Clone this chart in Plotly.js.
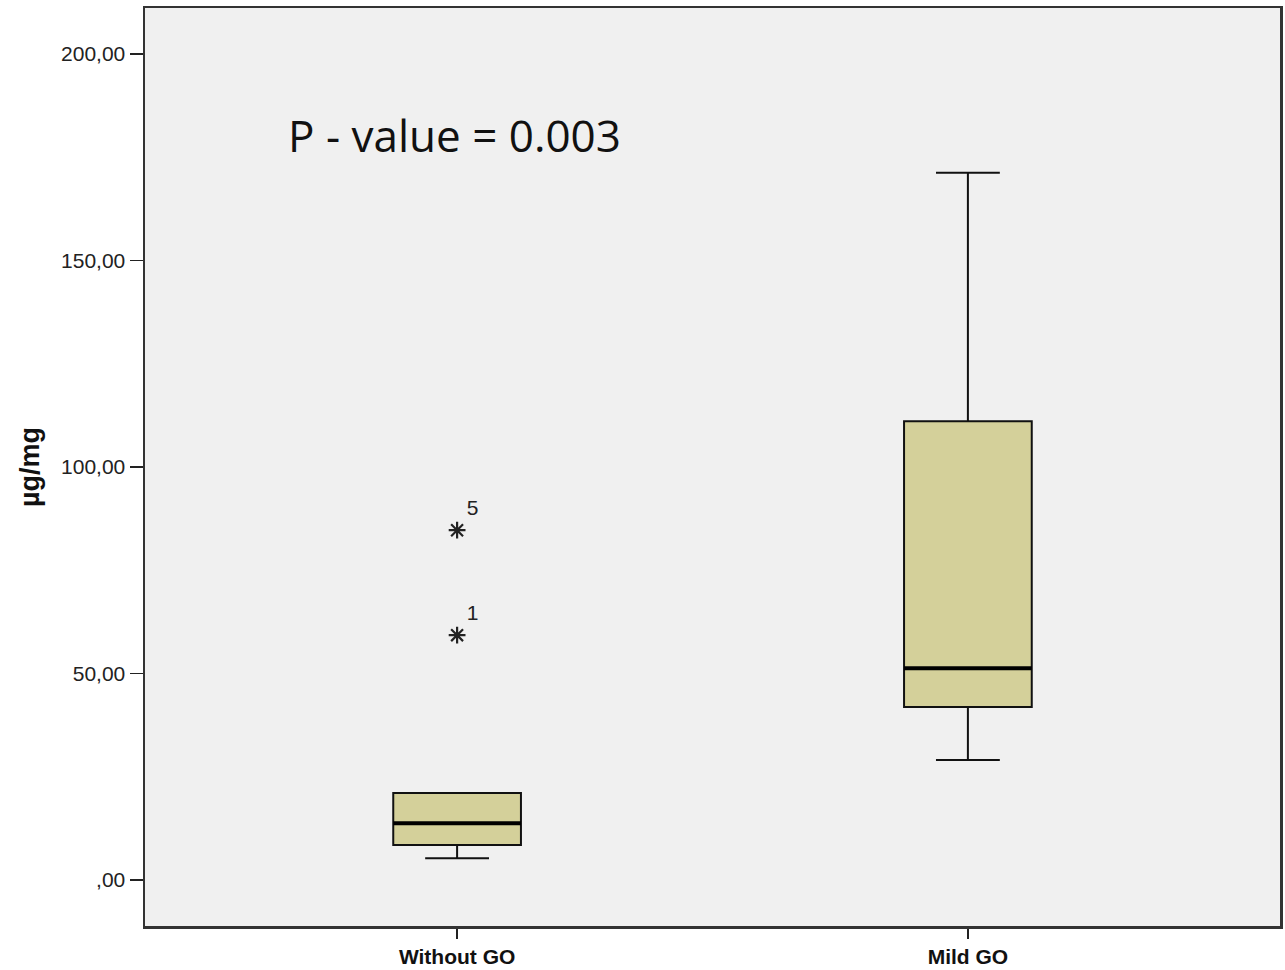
<!DOCTYPE html>
<html>
<head>
<meta charset="utf-8">
<script src="https://cdn.plot.ly/plotly-3.0.1.min.js"></script>
<style>html,body{margin:0;padding:0;background:#fff;}#chart{width:1285px;height:970px;}</style>
</head>
<body>
<div id="chart"></div>
<script>
// Data
const categories = ["Without GO", "Mild GO"];
const catPos = [0, 1];
const q1 = [8.5, 41.9];
const median = [13.8, 51.3];
const q3 = [21.1, 111.1];
const lowerFence = [5.3, 29.1];
const upperFence = [21.1, 171.2];
const outlierCat = [0, 0];
const outlierVals = [84.7, 59.3];
const outlierLabels = ["5", "1"];
const yTickVals = [0, 50, 100, 150, 200];
const yTickText = [",00", "50,00", "100,00", "150,00", "200,00"];

const boxWidth = 0.25;

const traces = [
  {
    type: "box",
    x: catPos,
    q1: q1,
    median: median,
    q3: q3,
    lowerfence: lowerFence,
    upperfence: upperFence,
    width: boxWidth,
    whiskerwidth: 0.5,
    fillcolor: "#D4D09A",
    line: {color: "#111111", width: 2},
    boxpoints: false,
    hoverinfo: "skip",
    showlegend: false
  },
  {
    type: "scatter",
    mode: "markers+text",
    x: outlierCat,
    y: outlierVals,
    text: outlierLabels,
    textposition: "top right",
    textfont: {family: "Liberation Sans, Arial, sans-serif", size: 21, color: "#222"},
    marker: {symbol: "asterisk-open", size: 14, color: "#222", line: {color: "#222", width: 2.2}},
    showlegend: false,
    hoverinfo: "skip",
    cliponaxis: false
  }
];

// thicker median lines
catPos.forEach((c, i) => {
  traces.push({
    type: "scatter",
    mode: "lines",
    x: [c - boxWidth / 2, c + boxWidth / 2],
    y: [median[i], median[i]],
    line: {color: "#000", width: 4},
    showlegend: false,
    hoverinfo: "skip"
  });
});

const layout = {
  width: 1285,
  height: 970,
  margin: {l: 145, r: 5, t: 8, b: 44},
  paper_bgcolor: "#ffffff",
  plot_bgcolor: "#F0F0F0",
  showlegend: false,
  xaxis: {
    range: [-0.611, 1.611],
    tickvals: catPos,
    ticktext: categories.map(c => "<b>" + c + "</b>"),
    ticks: "outside",
    ticklen: 10,
    tickwidth: 1.5,
    tickcolor: "#222",
    showgrid: false,
    zeroline: false,
    showline: true,
    linecolor: "#333",
    linewidth: 2.5,
    mirror: true,
    tickfont: {family: "Liberation Sans, Arial, sans-serif", size: 21, color: "#111"}
  },
  yaxis: {
    range: [-11.1, 211.1],
    tickvals: yTickVals,
    ticktext: yTickText,
    ticks: "outside",
    ticklen: 13,
    tickwidth: 1.5,
    tickcolor: "#222",
    showgrid: false,
    zeroline: false,
    showline: true,
    linecolor: "#333",
    linewidth: 2.5,
    mirror: true,
    tickfont: {family: "Liberation Sans, Arial, sans-serif", size: 21, color: "#222"},
    title: {text: "<b>µg/mg</b>", font: {family: "Liberation Sans, Arial, sans-serif", size: 27, color: "#111"}, standoff: 14}
  },
  annotations: [
    {
      text: "P - value = 0.003",
      xref: "paper", yref: "paper",
      x: 0.1245, y: 0.862,
      xanchor: "left", yanchor: "middle",
      showarrow: false,
      font: {family: "Open Sans, Noto Sans, sans-serif", size: 44, color: "#111"}
    }
  ]
};

Plotly.newPlot("chart", traces, layout, {displayModeBar: false, staticPlot: true});
</script>
</body>
</html>
